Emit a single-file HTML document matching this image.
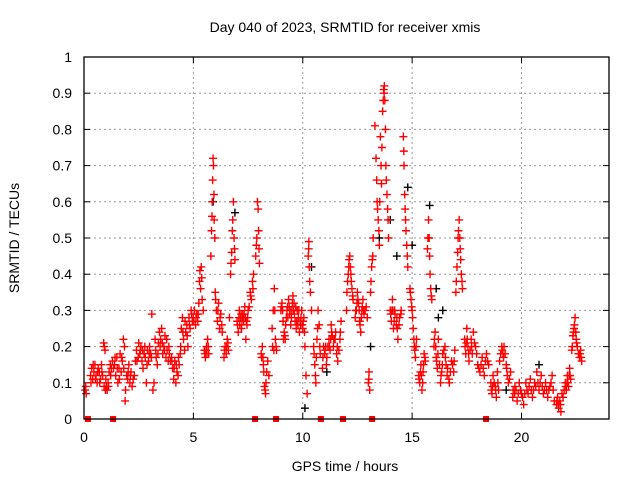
<!DOCTYPE html>
<html><head><meta charset="utf-8"><style>
body{margin:0;background:#fff;}
svg{display:block;font-family:"Liberation Sans",sans-serif;}
</style></head><body>
<svg id="chart" width="640" height="480">
<text x="345" y="32" text-anchor="middle" font-size="14">Day 040 of 2023, SRMTID for receiver xmis</text>
<text transform="translate(19,238) rotate(-90)" text-anchor="middle" font-size="14">SRMTID / TECUs</text>
<text x="345" y="471" text-anchor="middle" font-size="14">GPS time / hours</text>
<g id="grid"></g>
<g id="ticks"></g>
<g id="black"></g>
<g id="red"></g>
<rect x="84" y="57" width="525" height="362" fill="none" stroke="#000" stroke-width="1.3"/>
</svg>
<script>
const xTicks = [0,5,10,15,20];
const yTicks = [0,0.1,0.2,0.3,0.4,0.5,0.6,0.7,0.8,0.9,1];
const yTickLabels = ["0","0.1","0.2","0.3","0.4","0.5","0.6","0.7","0.8","0.9","1"];
const gapTimes = [0.18,1.33,7.82,8.78,10.83,11.84,13.17,18.38];
const blackSeries = [[5.9,0.6],[6.9,0.57],[10.4,0.42],[10.1,0.03],[12.6,0.27],[13.1,0.2],[13.5,0.5],[14.0,0.55],[14.3,0.45],[14.8,0.64],[15.0,0.48],[15.8,0.59],[16.1,0.36],[16.2,0.28],[16.4,0.3],[19.3,0.08],[20.8,0.15],[11.1,0.13]];
const redSeries = [
[0.05,0.08],[0.08,0.09],[0.1,0.07],
[0.3,0.12],[0.35,0.14],[0.4,0.11],[0.45,0.13],[0.5,0.15],[0.55,0.12],[0.6,0.1],[0.65,0.14],[0.7,0.13],[0.75,0.11],[0.8,0.15],[0.85,0.12],
[0.9,0.21],[0.93,0.2],[0.96,0.19],[0.92,0.09],[0.98,0.08],[1.02,0.09],[1.06,0.08],[1.1,0.1],[1.15,0.13],[1.2,0.15],[1.25,0.14],[1.3,0.16],
[1.4,0.15],[1.45,0.12],[1.5,0.17],[1.55,0.1],[1.6,0.14],[1.65,0.18],[1.7,0.13],[1.75,0.16],[1.8,0.22],[1.85,0.2],[1.88,0.05],[1.9,0.08],[1.95,0.12],
[2.0,0.11],[2.05,0.15],[2.1,0.1],[2.15,0.13],[2.2,0.09],[2.3,0.12],[2.35,0.16],[2.4,0.19],[2.5,0.21],[2.55,0.18],[2.6,0.2],[2.65,0.16],[2.7,0.14],[2.75,0.18],[2.8,0.17],[2.85,0.1],[2.9,0.19],[2.95,0.16],
[3.0,0.2],[3.05,0.18],[3.1,0.29],[3.15,0.08],[3.2,0.1],[3.25,0.22],[3.3,0.17],[3.35,0.15],[3.4,0.21],[3.45,0.24],[3.5,0.22],[3.55,0.25],[3.6,0.18],[3.65,0.2],[3.7,0.23],[3.75,0.17],[3.8,0.19],[3.85,0.16],[3.9,0.18],
[4.0,0.17],[4.05,0.14],[4.1,0.11],[4.15,0.16],[4.2,0.1],[4.25,0.13],[4.3,0.12],[4.35,0.15],[4.4,0.18],
[4.45,0.25],[4.5,0.28],[4.55,0.22],[4.6,0.19],[4.65,0.24],[4.7,0.26],[4.75,0.2],[4.8,0.28],[4.85,0.25],[4.9,0.3],[4.95,0.27],
[5.0,0.28],[5.05,0.3],[5.1,0.26],[5.15,0.29],[5.2,0.27],[5.28,0.38],[5.3,0.41],[5.33,0.36],[5.36,0.42],[5.4,0.33],[5.45,0.3],
[5.5,0.19],[5.55,0.17],[5.6,0.2],[5.65,0.22],[5.7,0.18],
[5.8,0.45],[5.83,0.52],[5.86,0.6],[5.88,0.66],[5.9,0.72],[5.92,0.7],[5.95,0.55],[5.98,0.5],
[6.0,0.35],[6.05,0.3],[6.1,0.27],[6.15,0.32],[6.2,0.25],[6.25,0.29],[6.3,0.26],
[6.4,0.17],[6.45,0.2],[6.5,0.18],[6.55,0.22],[6.6,0.19],[6.65,0.28],
[6.7,0.4],[6.75,0.46],[6.8,0.55],[6.83,0.6],[6.86,0.5],[6.9,0.44],
[7.0,0.27],[7.05,0.24],[7.1,0.3],[7.15,0.28],[7.2,0.25],[7.25,0.29],[7.3,0.27],[7.35,0.31],[7.4,0.22],[7.45,0.26],[7.5,0.3],
[7.6,0.35],[7.65,0.33],[7.7,0.38],[7.75,0.4],
[7.85,0.45],[7.9,0.5],[7.93,0.6],[7.96,0.58],[8.0,0.47],[8.02,0.43],
[8.1,0.18],[8.15,0.2],[8.2,0.15],[8.25,0.09],[8.3,0.07],[8.35,0.13],[8.4,0.16],[8.45,0.12],
[8.6,0.25],[8.65,0.3],[8.7,0.36],[8.75,0.22],[8.8,0.19],
[9.0,0.3],[9.05,0.32],[9.1,0.27],[9.15,0.24],[9.2,0.22],[9.25,0.28],[9.3,0.31],[9.35,0.33],[9.4,0.29],[9.45,0.26],[9.5,0.3],[9.55,0.34],[9.6,0.32],[9.65,0.27],[9.7,0.25],[9.75,0.3],[9.8,0.28],[9.85,0.24],[9.9,0.26],[9.95,0.3],
[10.0,0.25],[10.05,0.28],[10.1,0.2],[10.15,0.12],[10.2,0.07],[10.25,0.45],[10.28,0.49],[10.3,0.42],[10.35,0.35],[10.4,0.3],
[10.5,0.2],[10.55,0.15],[10.6,0.1],[10.65,0.22],[10.7,0.3],[10.75,0.26],[10.8,0.18],[10.9,0.14],[10.95,0.2],
[11.0,0.18],[11.05,0.2],[11.1,0.17],[11.2,0.22],[11.25,0.19],[11.3,0.26],[11.35,0.23],[11.4,0.2],[11.5,0.24],[11.55,0.18],[11.6,0.16],[11.7,0.22],[11.75,0.27],
[12.0,0.3],[12.05,0.38],[12.1,0.42],[12.15,0.45],[12.2,0.4],[12.25,0.36],[12.3,0.33],
[12.4,0.28],[12.45,0.3],[12.5,0.35],[12.55,0.32],[12.6,0.27],[12.65,0.24],[12.7,0.3],[12.75,0.33],[12.8,0.29],[12.9,0.31],
[13.0,0.1],[13.03,0.13],[13.06,0.08],[13.1,0.35],[13.15,0.42],[13.2,0.45],[13.22,0.5],
[13.3,0.81],[13.35,0.72],[13.4,0.6],[13.45,0.55],[13.5,0.48],[13.55,0.78],[13.6,0.65],[13.65,0.85],[13.7,0.91],[13.73,0.92],[13.75,0.88],[13.78,0.8],[13.8,0.7],[13.85,0.62],[13.9,0.55],
[14.0,0.3],[14.05,0.27],[14.1,0.33],[14.15,0.25],[14.2,0.3],[14.3,0.28],[14.35,0.22],[14.4,0.26],[14.5,0.3],
[14.6,0.78],[14.63,0.7],[14.66,0.62],[14.7,0.55],[14.75,0.48],[14.8,0.42],
[14.9,0.36],[14.95,0.33],[15.0,0.3],[15.05,0.25],[15.1,0.2],[15.15,0.17],[15.2,0.22],
[15.3,0.12],[15.35,0.1],[15.4,0.15],[15.45,0.08],[15.5,0.13],[15.55,0.18],[15.6,0.16],
[15.7,0.47],[15.75,0.55],[15.8,0.45],[15.85,0.36],[15.9,0.33],
[16.0,0.2],[16.05,0.24],[16.1,0.17],[16.15,0.14],[16.2,0.22],[16.3,0.1],[16.35,0.13],[16.4,0.18],[16.5,0.2],[16.55,0.15],
[16.6,0.12],[16.7,0.1],[16.8,0.16],[16.9,0.13],[16.95,0.19],
[17.0,0.35],[17.05,0.42],[17.1,0.5],[17.15,0.55],[17.2,0.47],[17.25,0.4],[17.3,0.36],
[17.4,0.22],[17.45,0.18],[17.5,0.25],[17.55,0.2],[17.6,0.16],[17.7,0.22],[17.75,0.18],[17.8,0.24],[17.9,0.2],
[18.0,0.15],[18.1,0.13],[18.2,0.17],[18.3,0.12],[18.4,0.18],[18.5,0.15],
[18.6,0.1],[18.65,0.07],[18.7,0.12],[18.8,0.09],[18.85,0.06],[18.9,0.13],[18.95,0.08],
[19.0,0.16],[19.1,0.2],[19.15,0.18],[19.2,0.2],[19.3,0.15],[19.35,0.12],[19.4,0.1],[19.5,0.13],
[19.6,0.06],[19.7,0.09],[19.8,0.05],[19.9,0.1],[20.0,0.07],[20.1,0.04],[20.2,0.1],[20.3,0.07],[20.4,0.11],[20.5,0.06],
[20.6,0.1],[20.7,0.13],[20.8,0.08],[20.9,0.12],[21.0,0.07],[21.1,0.1],[21.2,0.06],[21.3,0.09],[21.4,0.12],[21.5,0.05],
[21.6,0.04],[21.65,0.06],[21.7,0.03],[21.75,0.05],[21.8,0.02],[21.85,0.07],
[22.0,0.1],[22.05,0.08],[22.1,0.12],[22.15,0.09],[22.2,0.14],[22.25,0.11],
[22.3,0.19],[22.35,0.23],[22.4,0.25],[22.45,0.28],[22.5,0.22],[22.55,0.2],
[22.6,0.18],[22.65,0.17],[22.7,0.19],[22.75,0.16]
];
const redSeriesExtra = [
[0.32,0.1],[0.42,0.15],[0.52,0.11],[0.62,0.13],[0.72,0.1],[0.82,0.13],[1.0,0.11],[1.12,0.09],[1.22,0.12],[1.35,0.14],[1.42,0.17],[1.52,0.14],[1.62,0.11],[1.72,0.17],[1.82,0.14],
[2.02,0.13],[2.12,0.12],[2.25,0.11],[2.42,0.16],[2.48,0.17],[2.58,0.19],[2.68,0.19],[2.78,0.2],[2.88,0.15],[2.98,0.18],[3.08,0.17],[3.28,0.19],[3.38,0.18],[3.48,0.2],[3.58,0.21],[3.68,0.19],[3.78,0.22],[3.88,0.2],[3.95,0.16],
[4.02,0.16],[4.12,0.14],[4.22,0.15],[4.32,0.17],[4.42,0.2],[4.52,0.24],[4.62,0.27],[4.72,0.23],[4.82,0.26],[4.92,0.29],[5.02,0.27],[5.12,0.28],[5.22,0.29],[5.25,0.32],[5.38,0.39],
[5.52,0.18],[5.58,0.19],[5.62,0.18],[5.68,0.2],[5.85,0.56],[5.94,0.62],[6.02,0.33],[6.12,0.3],[6.22,0.28],[6.32,0.24],[6.42,0.19],[6.52,0.2],[6.58,0.21],[6.72,0.43],[6.78,0.52],[6.88,0.47],
[7.02,0.26],[7.08,0.28],[7.12,0.26],[7.18,0.29],[7.22,0.27],[7.28,0.28],[7.32,0.29],[7.38,0.28],[7.42,0.27],[7.48,0.28],[7.55,0.31],[7.62,0.34],[7.72,0.36],[7.88,0.48],[7.98,0.52],
[8.12,0.17],[8.18,0.17],[8.22,0.13],[8.28,0.08],[8.32,0.1],[8.62,0.2],[8.68,0.19],[8.72,0.3],[8.78,0.2],
[9.02,0.31],[9.08,0.3],[9.12,0.22],[9.18,0.23],[9.22,0.26],[9.28,0.3],[9.32,0.28],[9.38,0.31],[9.42,0.3],[9.48,0.28],[9.52,0.32],[9.58,0.3],[9.62,0.29],[9.68,0.31],[9.72,0.27],[9.78,0.26],[9.82,0.3],[9.88,0.27],[9.92,0.28],[9.98,0.26],
[10.02,0.27],[10.08,0.24],[10.27,0.47],[10.32,0.38],[10.52,0.18],[10.58,0.12],[10.62,0.17],[10.68,0.25],[10.78,0.2],[10.92,0.17],[11.02,0.19],[11.08,0.15],[11.15,0.2],[11.22,0.2],[11.28,0.22],[11.32,0.24],[11.42,0.22],[11.48,0.22],[11.58,0.2],[11.65,0.19],[11.72,0.24],
[12.02,0.35],[12.08,0.4],[12.12,0.44],[12.18,0.42],[12.22,0.38],[12.28,0.34],[12.42,0.3],[12.48,0.32],[12.52,0.33],[12.58,0.3],[12.62,0.26],[12.68,0.28],[12.72,0.31],[12.78,0.3],[12.85,0.3],[12.95,0.28],
[13.02,0.11],[13.12,0.38],[13.18,0.44],[13.38,0.66],[13.42,0.58],[13.48,0.52],[13.52,0.6],[13.58,0.7],[13.62,0.75],[13.68,0.88],[13.72,0.9],[13.82,0.66],[13.88,0.58],[13.92,0.5],
[14.02,0.29],[14.08,0.3],[14.12,0.3],[14.18,0.27],[14.22,0.29],[14.28,0.26],[14.32,0.25],[14.42,0.28],[14.48,0.29],[14.62,0.74],[14.68,0.58],[14.72,0.52],[14.78,0.45],[14.92,0.35],[14.98,0.31],[15.02,0.28],[15.08,0.22],[15.12,0.19],[15.18,0.2],
[15.32,0.11],[15.38,0.13],[15.42,0.12],[15.48,0.1],[15.52,0.15],[15.58,0.17],[15.72,0.5],[15.78,0.5],[15.82,0.4],[15.88,0.34],[16.02,0.22],[16.08,0.2],[16.12,0.16],[16.18,0.18],[16.25,0.15],[16.32,0.12],[16.38,0.15],[16.45,0.19],[16.52,0.17],
[16.62,0.14],[16.68,0.11],[16.75,0.13],[16.85,0.15],[16.92,0.16],[17.02,0.38],[17.08,0.46],[17.12,0.52],[17.18,0.5],[17.22,0.44],[17.28,0.38],[17.42,0.2],[17.48,0.21],[17.52,0.22],[17.58,0.18],[17.65,0.19],[17.72,0.2],[17.85,0.21],[17.95,0.18],
[18.05,0.14],[18.15,0.15],[18.25,0.14],[18.35,0.16],[18.45,0.16],[18.62,0.08],[18.68,0.09],[18.75,0.1],[18.82,0.08],[18.92,0.1],[19.05,0.18],[19.12,0.19],[19.18,0.17],[19.25,0.18],[19.32,0.14],[19.45,0.11],
[19.62,0.08],[19.68,0.07],[19.75,0.08],[19.85,0.07],[19.95,0.08],[20.05,0.06],[20.15,0.07],[20.25,0.08],[20.35,0.09],[20.45,0.08],[20.55,0.08],[20.65,0.09],[20.75,0.1],[20.85,0.1],[20.95,0.09],[21.05,0.08],[21.15,0.08],[21.25,0.08],[21.35,0.1],[21.45,0.08],
[21.62,0.05],[21.68,0.04],[21.78,0.04],[21.9,0.06],[21.95,0.08],[22.02,0.09],[22.08,0.1],[22.12,0.1],[22.18,0.12],[22.22,0.12],[22.32,0.2],[22.38,0.24],[22.42,0.26],[22.48,0.24],[22.52,0.21],[22.62,0.18],[22.68,0.18],[22.72,0.17]
];
const NS = "http://www.w3.org/2000/svg";
const X0=84, X1=609, Y0=419, Y1=57;
function xScale(t){ return X0 + (t/24)*(X1-X0); }
function yScale(v){ return Y0 - v*(Y0-Y1); }
function mk(tag, attrs, parent){ const e=document.createElementNS(NS,tag); for(const k in attrs) e.setAttribute(k,attrs[k]); parent.appendChild(e); return e; }
const grid=document.getElementById('grid'), ticks=document.getElementById('ticks');
xTicks.forEach(t=>{
  const x=xScale(t);
  if(t>0){ const g=mk('line',{x1:x,x2:x,y1:Y1,y2:Y0,stroke:'#999','stroke-dasharray':'2,3'},grid);
    
     }
  mk('line',{x1:x,x2:x,y1:Y0,y2:Y0-6,stroke:'#000'},ticks);
  mk('line',{x1:x,x2:x,y1:Y1,y2:Y1+6,stroke:'#000'},ticks);
  const lb=mk('text',{x:x,y:Y0+23,'text-anchor':'middle','font-size':'14'},ticks);
  lb.textContent=String(t);
  
  
});
yTicks.forEach((v,i)=>{
  const y=yScale(v);
  if(v>0 && v<1){ const g=mk('line',{x1:X0,x2:X1,y1:y,y2:y,stroke:'#999','stroke-dasharray':'2,3'},grid);
    
     }
  mk('line',{x1:X0,x2:X0+6,y1:y,y2:y,stroke:'#000'},ticks);
  mk('line',{x1:X1,x2:X1-6,y1:y,y2:y,stroke:'#000'},ticks);
  const lb=mk('text',{x:X0-12,y:y+5,'text-anchor':'end','font-size':'14'},ticks);
  lb.textContent=yTickLabels[i];
  
  
});
function plus(p, color, parent, name){
  const x=xScale(p[0]), y=yScale(p[1]);
  const e=mk('path',{d:`M${x-4},${y}h8M${x},${y-4}v8`,stroke:color,'stroke-width':'1.4',fill:'none'},parent);
  
  
}
const blk=document.getElementById('black'), red=document.getElementById('red');
blackSeries.forEach(p=>plus(p,'#000',blk,'black-point'));
redSeries.forEach(p=>plus(p,'#f00',red,'red-point'));
redSeriesExtra.forEach(p=>plus(p,'#f00',red,'red-point'));
gapTimes.forEach(t=>{
  const r=mk('rect',{x:xScale(t)-3,y:Y0-3,width:6,height:6,fill:'#f00'},red);
  
  
});
</script>
</body></html>
